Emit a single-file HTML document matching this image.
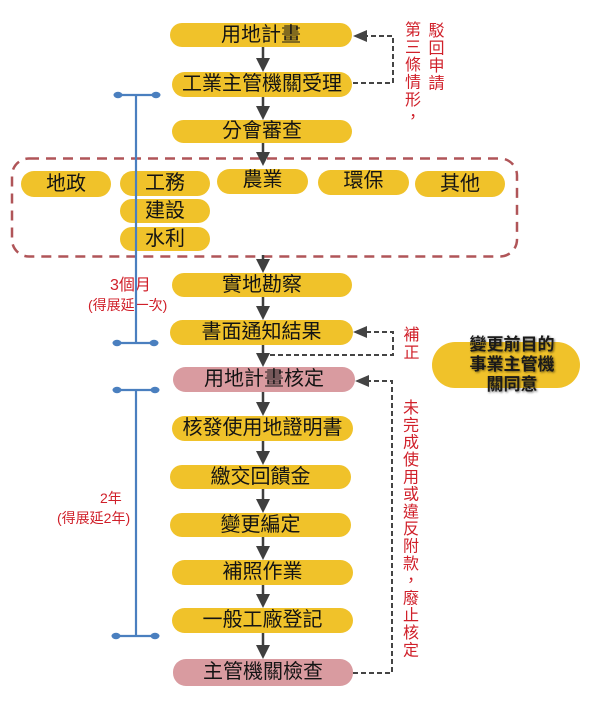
<!DOCTYPE html>
<html>
<head>
<meta charset="utf-8">
<style>
  html,body{margin:0;padding:0;background:#fff;}
  body{width:600px;height:704px;position:relative;overflow:hidden;
       font-family:"Liberation Sans","Noto Sans CJK TC","Noto Sans CJK SC",sans-serif;}
  .b{position:absolute;background:#f0c22a;color:#141414;font-size:20px;
     text-align:center;border-radius:13px;white-space:nowrap;}
  .p{background:#d99ba0;}
  .red{position:absolute;color:#d0202a;white-space:nowrap;}
  .v{position:absolute;color:#d0202a;writing-mode:vertical-rl;font-size:16px;
     line-height:16px;width:16px;letter-spacing:1.3px;white-space:nowrap;}
</style>
</head>
<body>

<!-- red dashed region -->
<svg width="600" height="704" style="position:absolute;left:0;top:0">
  <rect x="12" y="158.5" width="505" height="98" rx="17" ry="17" fill="none"
        stroke="#b05558" stroke-width="2.5" stroke-dasharray="10 7"/>
</svg>

<!-- main column boxes -->
<div class="b" style="left:170px;top:23px;width:182px;height:24px;line-height:24px;">用地計畫</div>
<div class="b" style="left:172px;top:72px;width:180px;height:25px;line-height:25px;">工業主管機關受理</div>
<div class="b" style="left:172px;top:120px;width:180px;height:23px;line-height:23px;">分會審查</div>

<!-- region boxes -->
<div class="b" style="left:21px;top:171px;width:90px;height:26px;line-height:26px;">地政</div>
<div class="b" style="left:120px;top:171px;width:90px;height:25px;line-height:25px;">工務</div>
<div class="b" style="left:120px;top:199px;width:90px;height:24px;line-height:24px;">建設</div>
<div class="b" style="left:120px;top:227px;width:90px;height:24px;line-height:24px;">水利</div>
<div class="b" style="left:217px;top:169px;width:91px;height:25px;line-height:23px;">農業</div>
<div class="b" style="left:318px;top:170px;width:91px;height:25px;line-height:23px;">環保</div>
<div class="b" style="left:415px;top:171px;width:90px;height:26px;line-height:26px;">其他</div>

<div class="b" style="left:172px;top:273px;width:180px;height:24px;line-height:24px;">實地勘察</div>
<div class="b" style="left:170px;top:320px;width:183px;height:25px;line-height:25px;">書面通知結果</div>
<div class="b p" style="left:173px;top:367px;width:182px;height:25px;line-height:25px;">用地計畫核定</div>
<div class="b" style="left:172px;top:416px;width:181px;height:25px;line-height:25px;">核發使用地證明書</div>
<div class="b" style="left:170px;top:465px;width:181px;height:24px;line-height:24px;">繳交回饋金</div>
<div class="b" style="left:170px;top:513px;width:181px;height:24px;line-height:24px;">變更編定</div>
<div class="b" style="left:172px;top:560px;width:181px;height:25px;line-height:25px;">補照作業</div>
<div class="b" style="left:172px;top:608px;width:181px;height:25px;line-height:25px;">一般工廠登記</div>
<div class="b p" style="left:173px;top:659px;width:180px;height:27px;line-height:27px;">主管機關檢查</div>

<!-- side oval -->
<div style="position:absolute;left:432px;top:342px;width:148px;height:46px;border-radius:23px;background:#f0c22a;"></div>
<div style="position:absolute;left:452px;top:335px;width:120px;text-align:center;font-size:17px;line-height:20px;font-weight:bold;color:#1a1a1a;text-shadow:1px 1px 2px rgba(0,0,0,0.55);">變更前目的<br>事業主管機<br>關同意</div>

<!-- red labels -->
<div class="red" style="left:110px;top:275px;font-size:16px;line-height:22px;">3個月</div>
<div class="red" style="left:88px;top:295px;font-size:14px;line-height:20px;">(得展延一次)</div>
<div class="red" style="left:100px;top:488px;font-size:14px;line-height:20px;">2年</div>
<div class="red" style="left:57px;top:508px;font-size:14px;line-height:20px;">(得展延2年)</div>

<div class="v" style="left:425.5px;top:22px;letter-spacing:1.5px;">駁回申請</div>
<div class="v" style="left:402px;top:21px;letter-spacing:1.5px;">第三條情形，</div>
<div class="v" style="left:400.5px;top:326px;letter-spacing:2px;">補正</div>
<div class="v" style="left:400px;top:399px;">未完成使用或違反附款，廢止核定</div>

<!-- overlay: arrows, connectors, brackets -->
<svg width="600" height="704" style="position:absolute;left:0;top:0">
  <g stroke="#3f3f3f" stroke-width="2.5">
    <line x1="263" y1="47" x2="263" y2="59"/>
    <line x1="263" y1="97" x2="263" y2="107"/>
    <line x1="263" y1="143" x2="263" y2="153"/>
    <line x1="263" y1="255" x2="263" y2="260"/>
    <line x1="263" y1="297" x2="263" y2="307"/>
    <line x1="263" y1="345" x2="263" y2="354"/>
    <line x1="263" y1="392" x2="263" y2="403"/>
    <line x1="263" y1="441" x2="263" y2="452"/>
    <line x1="263" y1="489" x2="263" y2="500"/>
    <line x1="263" y1="537" x2="263" y2="547"/>
    <line x1="263" y1="585" x2="263" y2="595"/>
    <line x1="263" y1="633" x2="263" y2="646"/>
  </g>
  <g fill="#3f3f3f">
    <polygon points="256,58 270,58 263,72"/>
    <polygon points="256,106 270,106 263,120"/>
    <polygon points="256,152 270,152 263,166"/>
    <polygon points="256,259 270,259 263,273"/>
    <polygon points="256,306 270,306 263,320"/>
    <polygon points="256,353 270,353 263,367"/>
    <polygon points="256,402 270,402 263,416"/>
    <polygon points="256,451 270,451 263,465"/>
    <polygon points="256,499 270,499 263,513"/>
    <polygon points="256,546 270,546 263,560"/>
    <polygon points="256,594 270,594 263,608"/>
    <polygon points="256,645 270,645 263,659"/>
  </g>

  <!-- dashed feedback connectors -->
  <g fill="none" stroke="#444" stroke-width="2" stroke-dasharray="5 3">
    <path d="M353 83 H393 V36 H366"/>
    <path d="M270 355 H393 V332 H366"/>
    <path d="M353 673 H392 V381 H368"/>
  </g>
  <g fill="#444">
    <polygon points="353,36 367,30 367,42"/>
    <polygon points="353,332 367,326 367,338"/>
    <polygon points="355,381 369,375 369,387"/>
  </g>

  <!-- blue brackets -->
  <g stroke="#4a7fbf" stroke-width="2.2" fill="none">
    <line x1="118" y1="95" x2="156" y2="95"/>
    <line x1="136" y1="95" x2="136" y2="343"/>
    <line x1="117" y1="343" x2="154" y2="343"/>
    <line x1="117" y1="390" x2="155" y2="390"/>
    <line x1="136" y1="390" x2="136" y2="636"/>
    <line x1="116" y1="636" x2="155" y2="636"/>
  </g>
  <g fill="#4a7fbf">
    <ellipse cx="118" cy="95" rx="4.5" ry="3.2"/>
    <ellipse cx="156" cy="95" rx="4.5" ry="3.2"/>
    <ellipse cx="117" cy="343" rx="4.5" ry="3.2"/>
    <ellipse cx="154" cy="343" rx="4.5" ry="3.2"/>
    <ellipse cx="117" cy="390" rx="4.5" ry="3.2"/>
    <ellipse cx="155" cy="390" rx="4.5" ry="3.2"/>
    <ellipse cx="116" cy="636" rx="4.5" ry="3.2"/>
    <ellipse cx="155" cy="636" rx="4.5" ry="3.2"/>
  </g>
</svg>

</body>
</html>
